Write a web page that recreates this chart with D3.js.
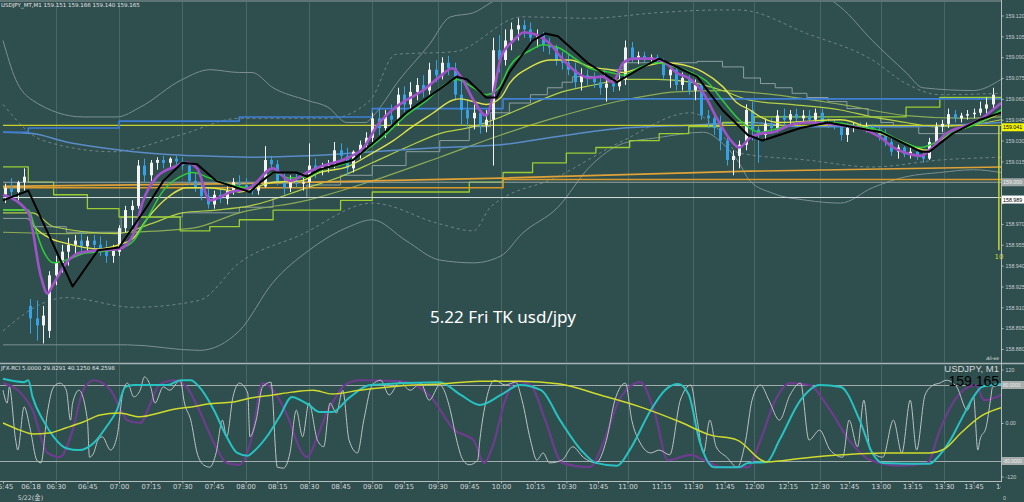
<!DOCTYPE html>
<html>
<head>
<meta charset="utf-8">
<script src="https://cdn.jsdelivr.net/npm/d3@7/dist/d3.min.js"></script>
<style>
  html, body { margin: 0; padding: 0; background: #2f4f4f; }
  svg { display: block; }
</style>
</head>
<body>
<svg id="chart" width="1024" height="502"></svg>
<script>
// ---- price data (USDJPY M1, grouped 3 minutes per candle) ----
var barsPerCandle = 3;
var candleOpen = [158.991,158.996,158.993,159.000,158.911,158.902,158.897,158.893,158.933,158.942,158.950,158.955,158.958,158.954,158.958,158.955,158.951,158.947,158.950,158.967,
158.980,158.983,159.012,159.005,159.014,159.016,159.014,159.017,159.015,159.012,159.001,158.996,158.990,158.984,158.991,158.988,158.994,159.000,158.998,158.996,
158.994,158.997,159.016,159.013,159.001,158.996,159.001,158.999,159.000,159.012,159.009,159.012,159.013,159.023,159.019,159.010,159.022,159.027,159.032,159.046,
159.039,159.048,159.045,159.063,159.056,159.065,159.070,159.066,159.081,159.077,159.086,159.082,159.063,159.052,159.046,159.050,159.041,159.045,159.095,159.088,
159.102,159.110,159.113,159.110,159.104,159.106,159.099,159.097,159.088,159.086,159.081,159.072,159.077,159.075,159.072,159.068,159.071,159.069,159.074,159.097,
159.089,159.091,159.089,159.090,159.088,159.077,159.081,159.070,159.075,159.066,159.070,159.048,159.046,159.039,159.030,159.016,159.019,159.027,159.052,159.038,
159.034,159.042,159.039,159.048,159.045,159.049,159.046,159.048,159.045,159.050,159.043,159.042,159.040,159.034,159.039,159.041,159.039,159.040,159.038,159.033,
159.029,159.022,159.025,159.020,159.022,159.019,159.017,159.029,159.040,159.042,159.049,159.046,159.048,159.049,159.050,159.053,159.056];
var candleHigh = [158.999,159.003,159.001,159.010,158.916,158.915,158.911,158.936,158.947,158.955,158.960,158.962,158.964,158.961,158.962,158.961,158.958,158.955,158.969,158.983,
158.987,159.016,159.017,159.016,159.018,159.019,159.018,159.019,159.018,159.014,159.007,159.001,158.996,158.994,158.996,158.997,159.003,159.005,159.003,158.999,
159.000,159.026,159.019,159.016,159.007,159.005,159.006,159.003,159.028,159.017,159.014,159.016,159.029,159.028,159.025,159.023,159.030,159.036,159.050,159.053,
159.052,159.056,159.068,159.069,159.072,159.075,159.077,159.086,159.088,159.090,159.091,159.086,159.074,159.059,159.056,159.053,159.052,159.104,159.106,159.110,
159.115,159.118,159.117,159.115,159.110,159.108,159.104,159.099,159.094,159.092,159.086,159.082,159.081,159.079,159.077,159.075,159.075,159.079,159.102,159.101,
159.094,159.094,159.092,159.092,159.089,159.084,159.082,159.079,159.077,159.074,159.072,159.052,159.050,159.048,159.034,159.023,159.030,159.056,159.058,159.041,
159.046,159.046,159.052,159.053,159.052,159.053,159.052,159.052,159.053,159.053,159.046,159.045,159.043,159.042,159.043,159.043,159.043,159.042,159.040,159.038,
159.032,159.027,159.026,159.025,159.025,159.023,159.032,159.043,159.045,159.053,159.052,159.050,159.052,159.053,159.058,159.061,159.068];
var candleLow = [158.985,158.990,158.987,158.994,158.891,158.886,158.884,158.888,158.926,158.935,158.940,158.947,158.950,158.949,158.951,158.947,158.942,158.942,158.947,158.964,
158.969,158.981,159.000,159.001,159.009,159.010,159.011,159.012,159.009,158.998,158.993,158.987,158.981,158.981,158.985,158.984,158.991,158.994,158.993,158.991,
158.991,158.996,159.010,158.998,158.991,158.993,158.996,158.994,158.996,159.003,159.005,159.007,159.010,159.016,159.005,159.007,159.017,159.023,159.029,159.034,
159.032,159.038,159.041,159.050,159.052,159.059,159.061,159.063,159.072,159.074,159.077,159.059,159.041,159.039,159.038,159.035,159.036,159.012,159.079,159.084,
159.095,159.102,159.104,159.099,159.097,159.094,159.092,159.084,159.081,159.077,159.068,159.066,159.070,159.068,159.063,159.058,159.065,159.066,159.070,159.086,
159.085,159.086,159.086,159.086,159.074,159.068,159.066,159.066,159.063,159.059,159.045,159.039,159.034,159.023,159.012,159.005,159.010,159.023,159.030,159.014,
159.030,159.036,159.036,159.040,159.042,159.043,159.043,159.043,159.042,159.041,159.039,159.038,159.030,159.029,159.036,159.038,159.036,159.035,159.030,159.026,
159.019,159.017,159.018,159.017,159.016,159.014,159.016,159.027,159.036,159.039,159.043,159.043,159.045,159.046,159.048,159.049,159.053];
var candleClose = [158.996,158.993,159.000,159.004,158.902,158.897,158.904,158.933,158.942,158.950,158.955,158.958,158.954,158.958,158.955,158.951,158.947,158.952,158.967,158.980,
158.983,159.012,159.005,159.014,159.016,159.014,159.017,159.015,159.012,159.001,158.996,158.990,158.984,158.991,158.988,158.994,159.000,158.998,158.996,158.994,
158.997,159.016,159.013,159.001,158.996,159.001,158.999,159.000,159.012,159.009,159.012,159.013,159.023,159.019,159.010,159.022,159.027,159.032,159.046,159.039,
159.048,159.045,159.063,159.056,159.065,159.070,159.066,159.081,159.077,159.086,159.082,159.063,159.052,159.046,159.050,159.041,159.045,159.095,159.088,159.102,
159.110,159.113,159.110,159.104,159.106,159.099,159.097,159.088,159.086,159.081,159.072,159.077,159.075,159.072,159.068,159.071,159.069,159.074,159.097,159.089,
159.091,159.089,159.090,159.088,159.077,159.081,159.070,159.075,159.066,159.070,159.048,159.046,159.039,159.030,159.016,159.019,159.027,159.052,159.038,159.034,
159.042,159.039,159.048,159.045,159.049,159.046,159.048,159.045,159.050,159.043,159.042,159.040,159.034,159.039,159.041,159.039,159.040,159.038,159.033,159.029,
159.022,159.025,159.020,159.022,159.019,159.017,159.029,159.040,159.042,159.049,159.046,159.048,159.049,159.050,159.053,159.056,159.063];

// ---- indicator lines: [bar index, price] ----
var blackMA = [[0,158.987],[12,158.994],[33,158.925],[45,158.951],[55,158.953],[68,158.982],[76,159.001],[85,159.014],[92,159.013],[101,159.001],[117,158.993],[122,159.000],[128,159.007],[139,159.007],[144,159.004],[150,159.009],[166,159.016],[179,159.033],[191,159.050],[206,159.066],[215,159.076],[220,159.074],[229,159.061],[234,159.061],[240,159.079],[251,159.102],[257,159.107],[263,159.105],[277,159.086],[291,159.072],[302,159.082],[311,159.089],[322,159.081],[329,159.076],[341,159.052],[353,159.034],[360,159.030],[378,159.039],[391,159.043],[416,159.036],[435,159.022],[439,159.022],[450,159.035],[463,159.045],[473,159.050]];
var purpleMA = [[0,158.991],[12,158.978],[18,158.932],[21,158.920],[24,158.927],[30,158.942],[36,158.949],[45,158.951],[55,158.952],[62,158.963],[66,158.985],[73,159.004],[81,159.011],[87,159.014],[92,159.010],[98,158.987],[108,158.993],[117,158.996],[128,159.010],[136,159.001],[144,159.007],[150,159.011],[164,159.018],[171,159.025],[177,159.040],[183,159.050],[191,159.059],[199,159.066],[207,159.076],[213,159.082],[217,159.076],[223,159.059],[229,159.048],[232,159.061],[236,159.090],[242,159.102],[247,159.108],[253,159.106],[259,159.100],[265,159.089],[272,159.079],[278,159.075],[284,159.076],[289,159.072],[294,159.086],[299,159.089],[307,159.089],[313,159.087],[319,159.079],[326,159.074],[332,159.064],[338,159.047],[345,159.030],[349,159.025],[354,159.032],[359,159.035],[365,159.036],[373,159.041],[381,159.043],[391,159.042],[397,159.041],[406,159.039],[416,159.032],[422,159.025],[428,159.021],[435,159.019],[439,159.023],[447,159.035],[457,159.041],[463,159.045],[469,159.052],[473,159.057]];
var greenMA = [[0,158.980],[12,158.980],[15,158.968],[19,158.951],[24,158.942],[30,158.944],[39,158.949],[46,158.950],[55,158.952],[62,158.958],[68,158.973],[76,158.994],[84,159.004],[90,159.007],[98,159.003],[108,158.998],[117,158.996],[122,159.000],[128,159.007],[136,159.003],[144,159.004],[153,159.010],[163,159.014],[172,159.023],[182,159.035],[191,159.048],[201,159.059],[210,159.071],[215,159.074],[223,159.068],[229,159.063],[235,159.068],[240,159.083],[250,159.095],[256,159.099],[263,159.097],[272,159.088],[278,159.082],[288,159.079],[294,159.077],[302,159.083],[310,159.086],[316,159.084],[326,159.079],[334,159.072],[341,159.059],[349,159.045],[359,159.036],[368,159.039],[381,159.043],[393,159.043],[406,159.040],[416,159.037],[425,159.030],[435,159.025],[441,159.028],[450,159.036],[460,159.041],[469,159.048],[473,159.052]];
var yellowMA = [[0,158.980],[11,158.980],[14,158.970],[22,158.960],[30,158.956],[46,158.952],[55,158.955],[62,158.960],[68,158.973],[78,158.989],[87,158.996],[97,158.996],[108,158.994],[112,158.993],[128,159.000],[141,159.001],[150,159.007],[163,159.011],[175,159.021],[185,159.030],[194,159.040],[204,159.050],[213,159.059],[217,159.060],[223,159.058],[229,159.056],[236,159.061],[240,159.071],[250,159.083],[259,159.088],[269,159.088],[278,159.083],[288,159.081],[294,159.079],[303,159.083],[313,159.086],[326,159.083],[332,159.079],[341,159.069],[348,159.057],[354,159.052],[359,159.047],[368,159.043],[397,159.045],[416,159.035],[425,159.030],[438,159.023],[444,159.030],[454,159.038],[463,159.043],[473,159.050]];
var slowMA = [[0,158.978],[14,158.978],[24,158.968],[54,158.963],[70,158.970],[85,158.978],[101,158.980],[117,158.983],[144,158.996],[160,159.004],[175,159.014],[191,159.025],[207,159.035],[223,159.040],[236,159.047],[250,159.056],[265,159.065],[280,159.070],[295,159.074],[310,159.074],[326,159.072],[341,159.066],[354,159.059],[373,159.056],[397,159.052],[412,159.047],[428,159.043],[441,159.040],[457,159.041],[473,159.045]];
var oliveMA = [[0,158.964],[30,158.963],[60,158.964],[90,158.967],[112,158.978],[144,158.987],[175,159.001],[207,159.018],[236,159.034],[263,159.047],[294,159.059],[319,159.065],[341,159.066],[365,159.063],[397,159.056],[428,159.048],[457,159.046],[473,159.047]];
var steelMA = [[0,159.036],[14,159.035],[30,159.029],[46,159.025],[62,159.022],[78,159.020],[93,159.019],[117,159.018],[144,159.019],[175,159.022],[207,159.025],[236,159.027],[263,159.033],[294,159.039],[326,159.041],[354,159.043],[378,159.040],[425,159.040],[473,159.043]];
var blueStep = [[0,159.036],[12,159.039],[55,159.044],[112,159.047],[175,159.053],[237,159.060],[473,159.060]];
var limeStep = [[0,159.011],[12,159.000],[24,158.991],[40,158.981],[55,158.975],[84,158.965],[98,158.968],[112,158.973],[128,158.980],[160,158.987],[175,158.993],[221,159.000],[237,159.007],[251,159.014],[267,159.021],[281,159.025],[297,159.030],[311,159.035],[325,159.040],[341,159.043],[356,159.047],[428,159.054],[444,159.061],[473,159.061]];
var grayStep = [[0,158.974],[12,158.973],[14,158.968],[30,158.964],[55,158.963],[56,158.975],[85,158.978],[112,158.982],[128,158.989],[144,158.998],[160,159.005],[175,159.012],[191,159.022],[207,159.030],[221,159.040],[231,159.050],[240,159.057],[250,159.063],[258,159.068],[265,159.072],[270,159.076],[285,159.081],[294,159.086],[329,159.087],[341,159.083],[351,159.075],[359,159.071],[366,159.068],[374,159.064],[381,159.061],[391,159.058],[400,159.053],[410,159.047],[416,159.043],[422,159.040],[434,159.035],[473,159.035]];
var orangeMA = [[0,158.997],[112,158.999],[236,159.003],[354,159.008],[473,159.011]];
var orangeStep = [[0,158.996],[237,159.002],[473,159.002]];
var bandUpper = [[0,159.102],[6,159.074],[14,159.059],[38,159.047],[54,159.047],[65,159.054],[85,159.074],[98,159.081],[112,159.079],[118,159.079],[128,159.068],[144,159.059],[154,159.054],[163,159.043],[172,159.043],[175,159.047],[188,159.074],[202,159.099],[212,159.119],[223,159.122],[231,159.129],[245,159.140],[378,159.140],[397,159.126],[412,159.102],[428,159.079],[436,159.068],[460,159.066],[473,159.074]];
var bandUpperInner = [[0,159.056],[19,159.030],[52,159.022],[84,159.034],[112,159.046],[155,159.046],[174,159.059],[186,159.092],[214,159.094],[246,159.119],[278,159.118],[310,159.122],[341,159.124],[349,159.124],[381,159.107],[412,159.088],[428,159.071],[444,159.063],[473,159.064]];
var bandLower = [[0,158.883],[59,158.883],[93,158.879],[112,158.893],[128,158.928],[145,158.951],[164,158.968],[175,158.973],[191,158.958],[207,158.944],[223,158.942],[236,158.947],[246,158.963],[263,158.982],[278,159.011],[294,159.028],[310,159.032],[332,159.036],[341,159.028],[348,159.016],[354,159.001],[365,158.992],[381,158.987],[397,158.985],[412,158.996],[428,159.004],[444,159.007],[460,159.009],[473,159.007]];
var bandLowerInner = [[0,158.893],[19,158.913],[30,158.917],[62,158.910],[93,158.915],[112,158.942],[141,158.962],[175,158.985],[207,158.970],[223,158.965],[231,158.982],[263,159.004],[294,159.030],[326,159.050],[337,159.041],[349,159.021],[381,159.016],[412,159.011],[444,159.016],[473,159.018]];
var levelYellow = 159.041, levelGray = 159.000, levelWhite = 158.989;
var rangeMarker = { bar: 472, top: 159.041, bottom: 158.951, label: '10' };

// ---- RCI sub window: [bar index, value] ----
var rciFast = [[0,69],[2,42],[3,76],[6,-36],[7,-57],[10,34],[13,-15],[16,-78],[18,-84],[21,21],[24,76],[27,84],[30,69],[32,6],[33,42],[36,69],[40,6],[41,-72],[43,-63],[45,-36],[47,-29],[51,-57],[54,-29],[57,69],[59,84],[62,55],[65,69],[67,97],[70,76],[72,42],[76,76],[79,69],[84,90],[86,42],[89,6],[92,-63],[95,-88],[98,-93],[101,-63],[104,6],[106,-29],[109,55],[112,84],[116,63],[117,-29],[120,6],[123,76],[127,86],[130,-93],[133,-95],[136,-63],[139,27],[142,-29],[145,42],[149,-36],[152,-50],[155,42],[158,21],[161,69],[164,-36],[168,-63],[171,6],[175,80],[179,90],[183,59],[188,86],[193,69],[198,84],[202,48],[207,80],[212,27],[215,-36],[218,-78],[221,-88],[225,-78],[226,-36],[229,48],[233,90],[238,80],[243,86],[246,48],[250,-36],[253,-78],[256,-63],[259,-84],[265,-78],[270,-50],[275,-72],[281,-84],[286,-36],[290,48],[295,84],[298,6],[302,-42],[307,-63],[311,-57],[316,-67],[321,48],[326,80],[329,6],[332,-63],[335,6],[338,-50],[343,-72],[348,-93],[352,-36],[355,48],[359,80],[363,48],[368,6],[373,59],[378,84],[382,-36],[387,-15],[392,-57],[398,-72],[401,6],[405,-50],[408,48],[411,-57],[417,-72],[422,6],[426,-63],[430,48],[433,-57],[437,59],[441,80],[444,84],[447,90],[452,76],[457,27],[460,55],[462,-57],[463,-36],[466,-8],[468,48],[469,76],[473,80]];
var rciMid = [[0,84],[7,69],[14,27],[21,-63],[27,-72],[33,-15],[38,69],[43,90],[51,69],[59,6],[65,0],[70,42],[74,80],[81,90],[87,76],[93,27],[100,-42],[106,-84],[112,-88],[118,-29],[123,84],[128,69],[135,13],[141,-57],[144,-72],[149,-29],[154,27],[156,42],[162,80],[169,90],[188,88],[202,59],[214,-15],[223,-36],[228,-84],[232,-50],[238,48],[243,88],[250,80],[257,6],[265,-84],[278,-93],[285,-36],[292,48],[302,86],[309,20],[315,-78],[326,-67],[332,-78],[341,-93],[353,-93],[359,-36],[366,48],[373,84],[382,80],[392,27],[401,-36],[411,-78],[425,-90],[438,-84],[444,-15],[451,48],[461,80],[465,48],[473,59]];
var rciLong = [[0,93],[10,86],[12,90],[14,55],[19,6],[24,-29],[30,-53],[36,-57],[43,-42],[49,-8],[54,27],[58,76],[62,80],[78,80],[84,90],[89,90],[93,76],[100,27],[106,-29],[111,-63],[116,-69],[118,-63],[125,-29],[131,13],[137,55],[141,48],[145,38],[150,23],[156,23],[164,53],[174,80],[207,86],[217,59],[226,38],[236,59],[245,80],[255,69],[264,6],[274,-57],[281,-84],[291,-90],[297,-57],[307,27],[314,70],[320,82],[325,60],[330,-36],[337,-93],[349,-93],[353,-84],[362,-82],[368,-36],[378,48],[387,80],[397,76],[406,6],[412,-63],[417,-84],[439,-86],[443,-72],[449,-36],[454,6],[460,55],[464,76],[469,80],[473,82]];
var rciSlow = [[0,0],[8,-15],[14,-23],[22,-21],[30,-10],[38,2],[46,17],[55,21],[65,13],[74,21],[81,29],[90,34],[97,40],[109,44],[118,53],[128,59],[137,65],[147,69],[156,61],[169,69],[188,78],[207,82],[226,88],[245,88],[264,82],[283,59],[302,34],[321,2],[335,-25],[348,-36],[362,-82],[379,-74],[398,-67],[417,-63],[439,-63],[446,-55],[454,-21],[463,13],[473,32]];
var rciLevels = [80, -80];

// ---- axis labels ----
var priceTicks = [159.120,159.105,159.090,159.075,159.060,159.045,159.030,159.015,159.000,158.985,158.970,158.955,158.940,158.925,158.910,158.895,158.880];
var timeLabels = ['05:45','06:18','06:30','06:45','07:00','07:15','07:30','07:45','08:00','08:15','08:30','08:45','09:00','09:15','09:30','09:45','10:00','10:15','10:30','10:45','11:00','11:15','11:30','11:45','12:00','12:15','12:30','12:45','13:00','13:15','13:30','13:45','14:00'];
var timeBars = [0,13,25,40,55,70,85,100,115,130,145,160,175,190,206,221,236,252,267,282,296,312,327,342,356,372,387,401,416,431,446,460,475];
var dateLabel = '5/22(金)';
var gridBars = [25,55,85,115,145,175,206,236,267,296,327,356,387,416,446];

var W = 1024, H = 502;
var BG = '#2f4f4f';
var svg = d3.select('#chart');
svg.append('rect').attr('width', W).attr('height', H).attr('fill', BG);

var x = d3.scaleLinear().domain([0, 473]).range([3, 1001]);
var y = d3.scaleLinear().domain([158.880, 159.120]).range([349, 15.5]);
var yr = d3.scaleLinear().domain([-100, 100]).range([470.5, 375.5]);

var defs = svg.append('defs');
defs.append('clipPath').attr('id', 'clipMain').append('rect').attr('x', 0).attr('y', 2).attr('width', 1001).attr('height', 360);
defs.append('clipPath').attr('id', 'clipSub').append('rect').attr('x', 0).attr('y', 365).attr('width', 1001).attr('height', 115);
defs.append('clipPath').attr('id', 'clipTime').append('rect').attr('x', 0).attr('y', 481).attr('width', 1001).attr('height', 21);

var main = svg.append('g').attr('clip-path', 'url(#clipMain)');
var sub = svg.append('g').attr('clip-path', 'url(#clipSub)');

// grid
[main, sub].forEach(function (g, i) {
    g.selectAll('line.grid').data(gridBars).join('line')
        .attr('class', 'grid')
        .attr('x1', function (d) { return Math.round(x(d)) + 0.5; })
        .attr('x2', function (d) { return Math.round(x(d)) + 0.5; })
        .attr('y1', i === 0 ? 2 : 365).attr('y2', i === 0 ? 362 : 481)
        .attr('stroke', '#476767').attr('stroke-width', 1);
});

function priceLine(g, data, color, width, curve, dash) {
    var line = d3.line()
        .x(function (d) { return x(d[0]); })
        .y(function (d) { return y(d[1]); })
        .curve(curve || d3.curveLinear);
    g.append('path').datum(data)
        .attr('d', line)
        .attr('fill', 'none')
        .attr('stroke', color)
        .attr('stroke-width', width)
        .attr('stroke-linejoin', 'round')
        .attr('stroke-dasharray', dash || null);
}
function levelLine(g, price, color, width) {
    priceLine(g, [[0, price], [473, price]], color, width);
}

// bands, steps, slow averages
priceLine(main, bandUpper, '#7b8f8f', 1, d3.curveMonotoneX);
priceLine(main, bandLower, '#7b8f8f', 1, d3.curveMonotoneX);
priceLine(main, bandUpperInner, '#708484', 1, d3.curveMonotoneX, '3,3');
priceLine(main, bandLowerInner, '#708484', 1, d3.curveMonotoneX, '3,3');
priceLine(main, grayStep, '#8e9e9e', 1, d3.curveStepAfter);
priceLine(main, oliveMA, '#8bab55', 1.2, d3.curveMonotoneX);
priceLine(main, slowMA, '#b4d046', 1.2, d3.curveMonotoneX);
priceLine(main, steelMA, '#5a8cc8', 1.5, d3.curveMonotoneX);
priceLine(main, limeStep, '#9acd32', 1.3, d3.curveStepAfter);

levelLine(main, levelWhite, '#d8dcdc', 1);
levelLine(main, levelGray, '#95a3a3', 1);
priceLine(main, orangeStep, '#d99a2b', 1.6, d3.curveStepAfter);
priceLine(main, orangeMA, '#e0a236', 1.6);
levelLine(main, levelYellow, '#c9cf2a', 1.2);
priceLine(main, blueStep, '#3f7fd6', 1.6, d3.curveStepAfter);

// candles
var bull = '#f2f2f2', bear = '#35a2e8';
var candles = candleClose.map(function (c, i) {
    return { bar: i * barsPerCandle + 1, o: candleOpen[i], h: candleHigh[i], l: candleLow[i], c: c };
});
var cg = main.append('g');
cg.selectAll('line').data(candles).join('line')
    .attr('x1', function (d) { return Math.round(x(d.bar)) + 0.5; })
    .attr('x2', function (d) { return Math.round(x(d.bar)) + 0.5; })
    .attr('y1', function (d) { return y(d.h); })
    .attr('y2', function (d) { return y(d.l); })
    .attr('stroke', function (d) { return d.c >= d.o ? bull : bear; })
    .attr('stroke-width', 1);
cg.selectAll('rect').data(candles).join('rect')
    .attr('x', function (d) { return Math.round(x(d.bar)) - 1; })
    .attr('width', 3)
    .attr('y', function (d) { return y(Math.max(d.o, d.c)); })
    .attr('height', function (d) { return Math.max(1, Math.abs(y(d.o) - y(d.c))); })
    .attr('fill', function (d) { return d.c >= d.o ? bull : bear; });

// fast averages on top
priceLine(main, yellowMA, '#dde24a', 1.4, d3.curveMonotoneX);
priceLine(main, greenMA, '#2fcc3a', 1.5, d3.curveMonotoneX);
priceLine(main, purpleMA, '#a052c8', 2.6, d3.curveMonotoneX);
priceLine(main, blackMA, '#000000', 2);

// range marker at the right edge
main.append('line')
    .attr('x1', x(rangeMarker.bar)).attr('x2', x(rangeMarker.bar))
    .attr('y1', y(rangeMarker.top)).attr('y2', y(rangeMarker.bottom))
    .attr('stroke', '#c9d626').attr('stroke-width', 1.5);
svg.append('text')
    .attr('x', x(rangeMarker.bar)).attr('y', y(rangeMarker.bottom) + 9)
    .attr('text-anchor', 'middle')
    .attr('font-family', 'DejaVu Sans, sans-serif').attr('font-size', 7)
    .attr('fill', '#c9d626').text(rangeMarker.label);

// title in the chart
svg.append('text')
    .attr('x', 503).attr('y', 323)
    .attr('text-anchor', 'middle')
    .attr('font-family', 'Noto Sans, sans-serif').attr('font-size', 17)
    .attr('fill', '#ffffff').text('5.22 Fri TK usd/jpy');

// header
svg.append('line').attr('x1', 0).attr('x2', 1001).attr('y1', 1).attr('y2', 1).attr('stroke', '#8a9a9a');
svg.append('text').attr('x', 1).attr('y', 7)
    .attr('font-family', 'DejaVu Sans, sans-serif').attr('font-size', 5.5)
    .attr('fill', '#e4e4e4').text('USDJPY_MT,M1  159.151 159.166 159.140 159.165');

// ---- sub window ----
rciLevels.forEach(function (v) {
    sub.append('line').attr('x1', 0).attr('x2', 1001)
        .attr('y1', Math.round(yr(v)) + 0.5).attr('y2', Math.round(yr(v)) + 0.5)
        .attr('stroke', '#a3acac').attr('stroke-width', 1);
});
function rciLine(data, color, width) {
    var line = d3.line()
        .x(function (d) { return x(d[0]); })
        .y(function (d) { return yr(d[1]); })
        .curve(d3.curveMonotoneX);
    sub.append('path').datum(data).attr('d', line)
        .attr('fill', 'none').attr('stroke', color).attr('stroke-width', width)
        .attr('stroke-linejoin', 'round');
}
rciLine(rciMid, '#6e3c8e', 2.2);
rciLine(rciFast, '#bcc2c2', 1);
rciLine(rciLong, '#27c2c2', 2);
rciLine(rciSlow, '#cfdb2c', 1.5);

svg.append('text').attr('x', 1).attr('y', 370)
    .attr('font-family', 'DejaVu Sans, sans-serif').attr('font-size', 5.5)
    .attr('fill', '#e4e4e4').text('JFX-RCI 5.0000 29.8291 40.1250 64.2598');
svg.append('text').attr('x', 999).attr('y', 372).attr('text-anchor', 'end')
    .attr('font-family', 'Liberation Sans, sans-serif').attr('font-size', 9.5)
    .attr('fill', '#d6d6d6').text('USDJPY, M1');
svg.append('text').attr('x', 999).attr('y', 386).attr('text-anchor', 'end')
    .attr('font-family', 'Liberation Sans, sans-serif').attr('font-size', 14)
    .attr('fill', '#000000').text('159.165');
svg.append('text').attr('x', 999).attr('y', 360).attr('text-anchor', 'end')
    .attr('font-family', 'DejaVu Sans, sans-serif').attr('font-size', 4.5).attr('font-style', 'italic')
    .attr('fill', '#e0e0e0').text('Ali-ee');

// frame lines
svg.append('line').attr('x1', 0).attr('x2', W).attr('y1', 363.5).attr('y2', 363.5).attr('stroke', '#a8b4b4').attr('stroke-width', 1.5);
svg.append('line').attr('x1', 0).attr('x2', 1002).attr('y1', 481.5).attr('y2', 481.5).attr('stroke', '#b4bcbc').attr('stroke-width', 1);
svg.append('line').attr('x1', 1001.5).attr('x2', 1001.5).attr('y1', 0).attr('y2', 482).attr('stroke', '#b4bcbc').attr('stroke-width', 1);

// level tags on the price axis (they hide the tick label beneath)
var tags = [
    { yy: y(levelYellow) + 2, label: levelYellow.toFixed(3), fill: '#f4f400', color: '#000000' },
    { yy: y(levelGray), label: levelGray.toFixed(3), fill: '#9ea6a6', color: '#eeeeee' },
    { yy: y(levelWhite) + 2, label: levelWhite.toFixed(3), fill: '#ffffff', color: '#000000' }
];

// price axis
var priceAxis = d3.axisRight(y).tickValues(priceTicks).tickFormat(d3.format('.3f')).tickSize(2).tickPadding(2);
var pa = svg.append('g').attr('transform', 'translate(1001.5,0)').call(priceAxis);
pa.select('.domain').remove();
pa.selectAll('line').attr('stroke', '#b4bcbc');
pa.selectAll('text').attr('fill', '#c8cccc').attr('font-family', 'Liberation Sans, sans-serif').attr('font-size', 5.3);
pa.selectAll('.tick').filter(function (d) {
    return tags.some(function (t) { return Math.abs(y(d) - t.yy) < 6; });
}).select('text').remove();

function tag(yy, label, fill, color, size) {
    svg.append('rect').attr('x', 1002).attr('y', yy - 4).attr('width', 22).attr('height', 8).attr('fill', fill);
    svg.append('text').attr('x', 1003).attr('y', yy + 2)
        .attr('font-family', 'Liberation Sans, sans-serif').attr('font-size', size || 5.3)
        .attr('fill', color).text(label);
}
tags.forEach(function (t) { tag(t.yy, t.label, t.fill, t.color); });

// rci axis
var rciTicks = [120, 0, -120];
var rciAxis = d3.axisRight(yr).tickValues(rciTicks)
    .tickFormat(function (d) { return d === 0 ? '0.00' : String(d); })
    .tickSize(2).tickPadding(2);
var ra = svg.append('g').attr('transform', 'translate(1001.5,0)').call(rciAxis);
ra.select('.domain').remove();
ra.selectAll('line').attr('stroke', '#b4bcbc');
ra.selectAll('text').attr('fill', '#c8cccc').attr('font-family', 'Liberation Sans, sans-serif').attr('font-size', 5.3);
ra.selectAll('.tick').filter(function (d) { return d === 120; }).attr('transform', 'translate(0,' + (yr(120) + 4) + ')');
ra.selectAll('.tick').filter(function (d) { return d === -120; }).attr('transform', 'translate(0,' + (yr(-120) - 3) + ')');
rciLevels.forEach(function (v) { tag(yr(v), v.toFixed(4), '#a4acac', '#eeeeee', 4.8); });
svg.append('text').attr('x', 1003).attr('y', 500)
    .attr('font-family', 'Liberation Sans, sans-serif').attr('font-size', 5.3)
    .attr('fill', '#c8cccc').text('0');

// time axis
var timeAxis = d3.axisBottom(x).tickValues(timeBars)
    .tickFormat(function (d, i) { return timeLabels[i]; })
    .tickSize(2).tickPadding(1);
var ta = svg.append('g').attr('clip-path', 'url(#clipTime)');
var tg = ta.append('g').attr('transform', 'translate(0,481.5)').call(timeAxis);
tg.select('.domain').remove();
tg.selectAll('line').attr('stroke', '#b4bcbc');
tg.selectAll('text').attr('fill', '#d6d6d6').attr('font-family', 'DejaVu Sans, sans-serif').attr('font-size', 6.8);
svg.append('text').attr('x', x(timeBars[1])).attr('y', 499.5).attr('text-anchor', 'middle')
    .attr('font-family', 'DejaVu Sans, Noto Sans CJK JP, sans-serif').attr('font-size', 6.3)
    .attr('fill', '#d6d6d6').text(dateLabel);
</script>
</body>
</html>
